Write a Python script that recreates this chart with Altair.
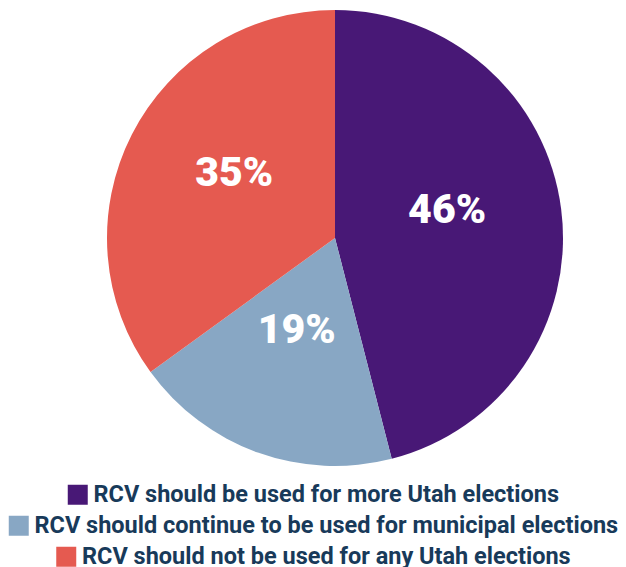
import altair as alt
import pandas as pd

categories = [
    "RCV should be used for more Utah elections",
    "RCV should continue to be used for municipal elections",
    "RCV should not be used for any Utah elections",
]
values = [46, 19, 35]
labels = ["46%", "19%", "35%"]
colors = ["#481876", "#88a7c4", "#e55a50"]

df = pd.DataFrame({
    "category": categories,
    "value": values,
    "label": labels,
    "order": list(range(len(categories))),
})

base = alt.Chart(df).encode(
    theta=alt.Theta("value:Q", stack=True),
    order=alt.Order("order:Q"),
)

pie = base.mark_arc(radius=228, x=327, stroke=None).encode(
    color=alt.Color("category:N", scale=alt.Scale(domain=categories, range=colors), legend=None)
)

text = base.mark_text(radius=113, x=327, dy=-13, fontSize=41, font="Roboto", fontWeight=900, color="white").encode(
    text="label:N"
)

legend_layers = []
for cat, col in zip(categories, colors):
    legend_layers.append(
        alt.Chart(df)
        .transform_filter(alt.datum.category == cat)
        .mark_square(filled=True, size=0)
        .encode(
            color=alt.Color(
                "category:N",
                scale=alt.Scale(domain=[cat], range=[col]),
                legend=alt.Legend(title=None, orient="bottom", symbolType="square", symbolOpacity=1),
            )
        )
    )

chart = (
    alt.layer(pie, text, *legend_layers)
    .resolve_scale(color="independent")
    .properties(
        width=610,
        height=460,
        autosize=alt.AutoSizeParams(type="none"),
        padding={"left": 0, "top": 0, "right": 0, "bottom": 99},
    )
    .configure_view(stroke=None)
    .configure_legend(
        labelFont="Roboto",
        labelFontSize=23.5,
        labelFontWeight="bold",
        labelColor="#183a5a",
        symbolSize=400,
        symbolStrokeWidth=0,
        labelOffset=4,
        padding=0,
        offset=15,
        labelLimit=800,
        layout=alt.ExprRef("{bottom: {anchor: 'middle', direction: 'vertical', center: true, margin: 7}}"),
    )
)

chart.save("out.html", embed_options={"renderer": "svg", "actions": False})
